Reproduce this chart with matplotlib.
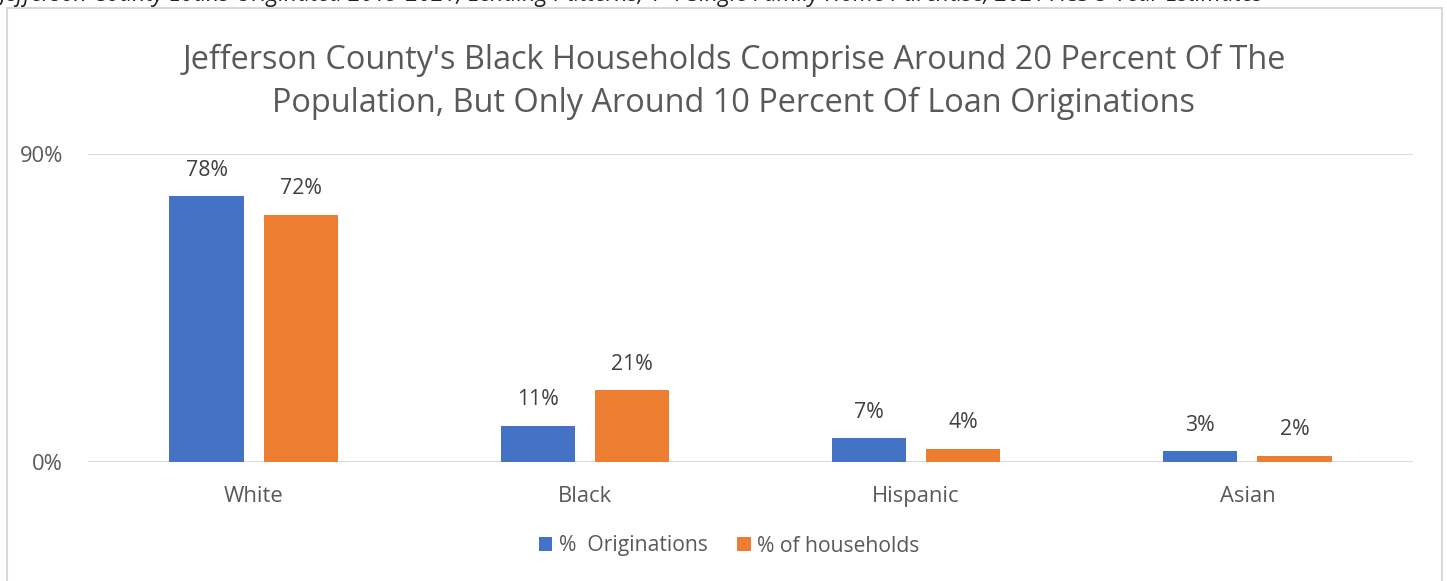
import matplotlib.pyplot as plt
from matplotlib.patches import Rectangle
import numpy as np

plt.rcParams['font.family'] = ['Open Sans', 'DejaVu Sans']

categories = ["White", "Black", "Hispanic", "Asian"]
originations = [77.7, 10.6, 7.0, 3.2]  # % of loan originations
households = [72.2, 21.0, 3.8, 1.8]    # % of households
series_names = ["%  Originations", "% of households"]
colors = ["#4472C4", "#ED7D31"]
grey = "#595959"

fig = plt.figure(figsize=(14.47, 5.81), dpi=100)
W, H = 1447, 581

# outer chart frame (bottom edge runs off the image)
fig.patches.append(Rectangle((7 / W, -0.05), 1435 / W, 1.05 - 8 / H, transform=fig.transFigure,
                             fill=False, edgecolor="#d9d9d9", linewidth=1.5))

# source line, cut off at the top edge as in the original
fig.text(0.0, 1 + 5 / H, "Jefferson County Loans Originated 2019-2021, Lending Patterns, 1-4 Single Family Home Purchase, 2021 ACS 5-Year Estimates",
         fontsize=16.5, style="italic", color="#222222", ha="left", va="center")

fig.text(734 / W, 1 - 82 / H,
         "Jefferson County's Black Households Comprise Around 20 Percent Of The\nPopulation, But Only Around 10 Percent Of Loan Originations",
         fontsize=23.4, color=grey, ha="center", va="center", linespacing=1.38)

ax = fig.add_axes([88 / W, 1 - 462 / H, 1325 / W, 308 / H])
x = np.arange(len(categories))
w = 0.224
off = 0.142
b1 = ax.bar(x - off, originations, w, color=colors[0], label=series_names[0])
b2 = ax.bar(x + off, households, w, color=colors[1], label=series_names[1])

for bars, vals in [(b1, originations), (b2, households)]:
    for bar, v in zip(bars, vals):
        ax.text(bar.get_x() + bar.get_width() / 2, v + 7.6, f"{round(v):.0f}%",
                ha="center", va="center", fontsize=15.3, color="#404040")

ax.set_xlim(-0.5, len(categories) - 0.5)
ax.set_ylim(0, 90)
ax.set_yticks([0, 90])
ax.set_yticklabels(["0%", "90%"])
ax.set_xticks(x)
ax.set_xticklabels(categories)
ax.grid(axis="y", color="#d9d9d9", linewidth=1.5)
ax.set_axisbelow(True)
for s in ax.spines.values():
    s.set_visible(False)
ax.tick_params(axis="both", length=0, labelsize=15.8, labelcolor=grey)
ax.tick_params(axis="y", pad=18)
ax.tick_params(axis="x", pad=17)

fig.legend(handles=[b1, b2], loc="center", bbox_to_anchor=(729 / W, 1 - 546 / H),
           ncol=2, frameon=False, fontsize=15.2, labelcolor=grey,
           handlelength=0.65, handleheight=0.65, handletextpad=0.3, columnspacing=1.4)

fig.savefig("out.png", dpi=100)
